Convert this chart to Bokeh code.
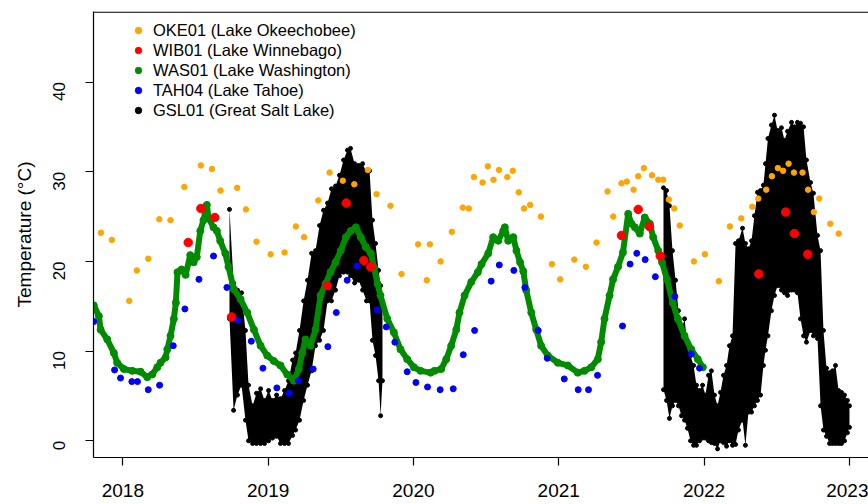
import math
from bokeh.plotting import figure
from bokeh.models import FixedTicker, Span, Legend, LegendItem
from bokeh.embed import file_html
from bokeh.resources import INLINE

FONT = "Liberation Sans"

# ---------------- data (decimal year, temperature in deg C) ----------------
oke_t = [2017.849, 2017.924, 2018.044, 2018.096, 2018.175, 2018.251, 2018.328, 2018.423, 2018.537, 2018.613,
         2018.672, 2018.787, 2018.847, 2018.920, 2019.017, 2019.113, 2019.191, 2019.247, 2019.345, 2019.423,
         2019.514, 2019.593, 2019.686, 2019.746, 2019.842, 2019.918, 2020.032, 2020.092, 2020.113, 2020.187,
         2020.264, 2020.340, 2020.381, 2020.416, 2020.476, 2020.512, 2020.551, 2020.589, 2020.646, 2020.684,
         2020.725, 2020.761, 2020.803, 2020.877, 2020.953, 2021.010, 2021.107, 2021.187, 2021.260, 2021.336,
         2021.375, 2021.432, 2021.469, 2021.515, 2021.547, 2021.586, 2021.642, 2021.685, 2021.719, 2021.758,
         2021.795, 2021.833, 2021.930, 2022.006, 2022.102, 2022.178, 2022.256, 2022.332, 2022.373, 2022.428,
         2022.467, 2022.508, 2022.544, 2022.582, 2022.619, 2022.678, 2022.716, 2022.756, 2022.793, 2022.869,
         2022.927]
oke_v = [23.2, 22.4, 15.6, 19.0, 20.3, 24.7, 24.6, 28.3, 30.7, 30.3,
         27.9, 28.2, 25.8, 22.2, 20.8, 21.0, 23.9, 22.7, 26.8, 29.9,
         29.0, 28.6, 30.2, 27.5, 26.2, 18.6, 21.9, 17.9, 21.9, 20.0,
         23.3, 26.0, 25.9, 29.4, 28.8, 30.6, 29.1, 30.2, 29.4, 30.1,
         27.7, 25.9, 26.3, 25.0, 19.7, 18.0, 20.2, 19.4, 22.1, 27.8,
         25.0, 28.7, 28.9, 28.0, 29.5, 30.4, 29.6, 29.1, 29.1, 26.9,
         25.9, 24.0, 20.0, 20.8, 17.8, 23.9, 24.8, 26.1, 27.0, 28.0,
         29.5, 30.4, 30.1, 30.9, 29.9, 29.9, 28.0, 25.5, 27.0, 24.2,
         23.1]

wib_t = [2018.450, 2018.537, 2018.633, 2018.748, 2019.407, 2019.538, 2019.659, 2019.706,
         2021.432, 2021.547, 2021.624, 2021.699, 2022.377, 2022.562, 2022.622, 2022.714]
wib_v = [22.1, 25.9, 24.9, 13.8, 17.3, 26.5, 20.1, 19.4,
         22.9, 25.8, 23.9, 20.6, 18.6, 25.5, 23.1, 20.8]

was_t = [2017.800, 2017.835, 2017.847, 2017.893, 2017.938, 2017.961, 2018.007, 2018.065, 2018.122, 2018.168,
         2018.202, 2018.237, 2018.259, 2018.294, 2018.306, 2018.328, 2018.351, 2018.365, 2018.376, 2018.404,
         2018.432, 2018.464, 2018.487, 2018.509, 2018.533, 2018.555, 2018.578, 2018.590, 2018.624, 2018.647,
         2018.670, 2018.705, 2018.727, 2018.764, 2018.810, 2018.856, 2018.902, 2018.948, 2018.994, 2019.039,
         2019.085, 2019.131, 2019.177, 2019.211, 2019.235, 2019.257, 2019.292, 2019.326, 2019.361, 2019.395,
         2019.429, 2019.464, 2019.500, 2019.535, 2019.569, 2019.604, 2019.638, 2019.672, 2019.707, 2019.729,
         2019.753, 2019.773, 2019.820, 2019.865, 2019.911, 2019.957, 2020.003, 2020.049, 2020.118, 2020.145,
         2020.191, 2020.226, 2020.260, 2020.295, 2020.317, 2020.352, 2020.398, 2020.443, 2020.469, 2020.515,
         2020.549, 2020.584, 2020.618, 2020.629, 2020.652, 2020.687, 2020.709, 2020.734, 2020.756, 2020.776,
         2020.811, 2020.845, 2020.879, 2020.925, 2020.994, 2021.063, 2021.131, 2021.177, 2021.224, 2021.269,
         2021.292, 2021.315, 2021.350, 2021.374, 2021.408, 2021.442, 2021.478, 2021.501, 2021.524, 2021.558,
         2021.592, 2021.627, 2021.650, 2021.685, 2021.711, 2021.745, 2021.785, 2021.820, 2021.866, 2021.912,
         2021.957, 2021.992]
was_v = [15.1, 13.9, 12.4, 11.3, 9.8, 8.7, 8.0, 7.8, 7.7, 7.1,
         7.4, 8.2, 8.7, 9.3, 10.2, 11.7, 13.6, 15.4, 18.8, 19.1,
         18.5, 20.7, 19.9, 20.5, 23.4, 24.6, 26.3, 24.8, 23.8, 23.4,
         22.3, 20.9, 19.4, 16.9, 15.8, 14.3, 12.4, 10.6, 9.5, 8.9,
         8.4, 7.4, 6.7, 8.0, 9.8, 11.3, 10.6, 12.4, 16.2, 17.5,
         18.8, 19.9, 21.2, 22.7, 23.4, 23.8, 22.7, 21.6, 20.9, 19.3,
         17.5, 16.2, 13.6, 12.1, 10.2, 9.1, 8.2, 7.8, 7.6, 7.8,
         8.0, 9.1, 10.6, 12.4, 14.3, 16.2, 17.7, 18.8, 19.7, 20.9,
         22.7, 22.3, 23.4, 23.8, 22.3, 22.7, 21.2, 19.9, 18.9, 16.8,
         14.3, 12.4, 10.6, 9.5, 8.7, 8.4, 7.6, 7.8, 8.2, 9.1,
         11.0, 13.6, 16.2, 18.0, 19.4, 21.0, 25.3, 24.2, 23.8, 23.1,
         24.9, 24.2, 22.7, 21.2, 19.9, 18.0, 15.4, 13.6, 11.7, 10.2,
         9.1, 8.2]

tah_t = [2017.800, 2017.943, 2017.984, 2018.062, 2018.101, 2018.175, 2018.253, 2018.347, 2018.427, 2018.524,
         2018.624, 2018.716, 2018.791, 2018.884, 2018.964, 2019.060, 2019.145, 2019.207, 2019.310, 2019.411,
         2019.469, 2019.544, 2019.612, 2019.751, 2019.813, 2019.872, 2019.957, 2020.017, 2020.097, 2020.184,
         2020.274, 2020.343, 2020.421, 2020.535, 2020.591, 2020.691, 2020.767, 2020.859, 2020.921, 2021.038,
         2021.134, 2021.205, 2021.267, 2021.439, 2021.491, 2021.537, 2021.595, 2021.665, 2021.799, 2021.912,
         2021.969]
tah_v = [13.3, 7.9, 7.0, 6.6, 6.6, 5.7, 6.2, 10.6, 14.7, 18.0,
         20.6, 17.1, 13.4, 11.1, 8.1, 5.9, 5.3, 6.7, 8.0, 10.5,
         14.3, 17.9, 19.5, 14.6, 12.7, 11.0, 7.7, 6.5, 6.0, 5.7,
         5.8, 9.6, 12.3, 17.8, 19.6, 19.0, 17.1, 12.3, 9.2, 6.9,
         5.7, 5.7, 7.3, 12.8, 19.7, 20.9, 20.2, 18.3, 16.1, 9.7,
         8.1]

# Great Salt Lake: high-frequency record summarised as low / high envelope
gsl1_t = [2018.734, 2018.762, 2018.789, 2018.817, 2018.844, 2018.865, 2018.893, 2018.920, 2018.948, 2018.975,
          2019.003, 2019.030, 2019.058, 2019.085, 2019.113, 2019.140, 2019.168, 2019.189, 2019.216, 2019.244,
          2019.271, 2019.299, 2019.326, 2019.354, 2019.381, 2019.409, 2019.436, 2019.464, 2019.491, 2019.519,
          2019.546, 2019.567, 2019.595, 2019.622, 2019.650, 2019.677, 2019.698, 2019.718, 2019.739, 2019.760,
          2019.774, 2019.787]
gsl1_hi = [25.8, 17.6, 16.8, 16.5, 12.3, 6.2, 3.9, 5.3, 5.8, 4.5,
           5.6, 4.5, 5.1, 4.7, 5.6, 6.7, 9.0, 9.8, 12.3, 15.6,
           17.9, 20.9, 21.2, 24.0, 25.7, 26.5, 28.1, 28.4, 29.6, 31.3,
           32.4, 32.6, 30.9, 30.7, 30.9, 29.9, 30.1, 24.6, 22.0, 19.0,
           17.3, 15.6]
gsl1_lo = [13.6, 3.4, 5.1, 6.2, 2.3, 0.0, -0.3, -0.3, -0.3, -0.3,
           0.0, 0.3, 0.5, -0.3, -0.3, -0.3, 0.6, 1.2, 2.3, 4.5,
           6.2, 7.8, 10.6, 11.2, 12.3, 15.6, 15.6, 16.8, 18.4, 18.8,
           18.8, 18.4, 17.6, 17.9, 16.8, 15.6, 15.6, 11.2, 9.5, 6.7,
           2.8, 6.7]

gsl2_t = [2021.721, 2021.742, 2021.762, 2021.783, 2021.804, 2021.824, 2021.845, 2021.866, 2021.886, 2021.907,
          2021.928, 2021.948, 2021.969, 2021.990, 2022.010, 2022.031, 2022.051, 2022.072, 2022.093, 2022.113,
          2022.134, 2022.155, 2022.175, 2022.196, 2022.217, 2022.237, 2022.265, 2022.285, 2022.306, 2022.327,
          2022.347, 2022.368, 2022.389, 2022.409, 2022.423, 2022.440, 2022.464, 2022.485, 2022.506, 2022.533,
          2022.554, 2022.575, 2022.602, 2022.623, 2022.643, 2022.664, 2022.685, 2022.705, 2022.733, 2022.753,
          2022.781, 2022.802, 2022.822, 2022.843, 2022.864, 2022.884, 2022.905, 2022.926, 2022.946, 2022.967,
          2022.987, 2023.001]
gsl2_hi = [28.2, 27.9, 26.2, 21.2, 17.9, 14.5, 12.3, 13.6, 10.6, 9.5,
           8.4, 6.2, 5.6, 6.2, 5.1, 7.3, 7.8, 5.1, 3.9, 5.4,
           7.3, 8.4, 10.6, 11.7, 22.0, 22.3, 23.7, 22.0, 21.4, 22.3,
           25.1, 27.7, 27.9, 28.5, 30.9, 33.7, 35.2, 36.3, 34.6, 34.9,
           33.5, 34.5, 35.5, 35.0, 35.5, 35.4, 35.0, 31.3, 28.8, 27.6,
           22.9, 21.2, 12.3, 8.1, 7.6, 7.8, 8.4, 5.6, 5.4, 5.1,
           4.5, 3.9]
gsl2_lo = [5.7, 4.5, 2.5, 3.9, 4.5, 3.9, 2.8, 2.3, 1.4, 0.0,
           -0.5, -0.5, 0.0, 0.3, 0.3, 0.0, -0.2, -0.3, -0.9, 0.0,
           -0.2, -0.6, 0.0, -0.5, -0.4, 1.2, 2.3, -0.5, 3.2, 3.2,
           3.9, 4.5, 5.1, 8.4, 10.1, 11.7, 14.5, 16.2, 17.3, 16.8,
           16.5, 16.2, 16.8, 16.8, 16.5, 13.6, 11.7, 11.0, 12.3, 11.7,
           11.4, 3.9, 1.2, 0.5, -0.3, -0.3, -0.3, -0.3, -0.3, 0.0,
           0.9, 1.5]

x_ticks = [2018, 2019, 2020, 2021, 2022, 2023]
y_ticks = [0, 10, 20, 30, 40]
labels = ["OKE01 (Lake Okeechobee)", "WIB01 (Lake Winnebago)", "WAS01 (Lake Washington)",
          "TAH04 (Lake Tahoe)", "GSL01 (Great Salt Lake)"]

C_OKE, C_WIB, C_WAS, C_TAH, C_GSL = "#FFA500", "#FF0000", "#008B00", "#0000FF", "#000000"

X_START, X_END = 2017.798, 2023.132
Y_START, Y_END = -1.86, 47.86

# ---------------- figure ----------------
p = figure(width=868, height=504, output_backend="svg", toolbar_location=None,
           x_range=(X_START, X_END), y_range=(Y_START, Y_END),
           min_border_left=93, min_border_right=0, min_border_top=11, min_border_bottom=47)
p.outline_line_color = None
p.xgrid.visible = False
p.ygrid.visible = False
p.background_fill_color = "white"
p.border_fill_color = "white"

# GSL01 (drawn first, underneath)
p.varea(x=gsl1_t, y1=gsl1_lo, y2=gsl1_hi, color=C_GSL)
p.varea(x=gsl2_t, y1=gsl2_lo, y2=gsl2_hi, color=C_GSL)
r_gsl = p.scatter(gsl1_t + gsl2_t, gsl1_hi + gsl2_hi, size=4, color=C_GSL)
p.scatter(gsl1_t + gsl2_t, gsl1_lo + gsl2_lo, size=4, color=C_GSL)

# WAS01
p.line(was_t, was_v, line_width=6, color=C_WAS)
r_was = p.scatter(was_t, was_v, size=7, color=C_WAS)

# OKE01, TAH04, WIB01
r_oke = p.scatter(oke_t, oke_v, size=5.5, color=C_OKE)
r_tah = p.scatter(tah_t, tah_v, size=6, color=C_TAH)
r_wib = p.scatter(wib_t, wib_v, size=8.5, color=C_WIB)

# top border of the box
p.add_layout(Span(location=Y_END - 0.06, dimension="width", line_color="black", line_width=1.2))

# axes
p.xaxis.ticker = FixedTicker(ticks=x_ticks)
p.yaxis.ticker = FixedTicker(ticks=y_ticks)
for ax in (p.xaxis, p.yaxis):
    ax.axis_line_color = "black"
    ax.axis_line_width = 1.2
    ax.major_tick_line_color = "black"
    ax.major_tick_line_width = 1.2
    ax.major_tick_out = 8
    ax.major_tick_in = 0
    ax.minor_tick_line_color = None
    ax.major_label_text_color = "black"
    ax.major_label_text_font = FONT
p.xaxis.major_label_text_font_size = "19px"
p.xaxis.major_label_standoff = 18
p.yaxis.major_label_text_font_size = "17px"
p.yaxis.major_label_orientation = math.pi / 2
p.yaxis.major_label_standoff = 26
p.yaxis.axis_label = "Temperature (°C)"
p.yaxis.axis_label_text_font = FONT
p.yaxis.axis_label_text_font_size = "19px"
p.yaxis.axis_label_text_font_style = "normal"
p.yaxis.axis_label_text_color = "black"
p.yaxis.axis_label_standoff = 10

# legend
legend = Legend(items=[LegendItem(label=labels[0], renderers=[r_oke]),
                       LegendItem(label=labels[1], renderers=[r_wib]),
                       LegendItem(label=labels[2], renderers=[r_was]),
                       LegendItem(label=labels[3], renderers=[r_tah]),
                       LegendItem(label=labels[4], renderers=[r_gsl])],
                location=(37, 337), padding=0, margin=0, spacing=0,
                glyph_width=16, glyph_height=20, label_height=20, label_standoff=7,
                label_text_font=FONT, label_text_font_size="16.5px", label_text_color="black",
                border_line_color=None, background_fill_alpha=0)
p.add_layout(legend)

open("out.html", "w").write(file_html(p, INLINE))
